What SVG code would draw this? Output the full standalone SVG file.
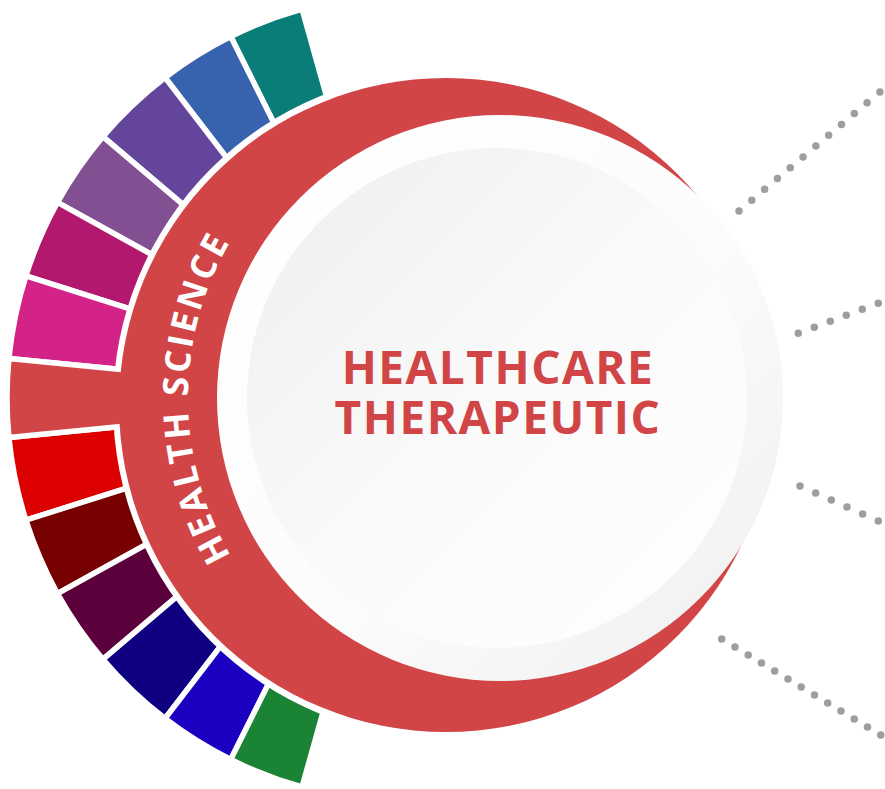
<svg xmlns="http://www.w3.org/2000/svg" width="885" height="789" viewBox="0 0 885 789">
<defs>
<style>
.seg{stroke:#ffffff;stroke-width:5.5;stroke-linejoin:miter}
.dots{fill:none;stroke:#9e9e9e;stroke-width:7.5;stroke-linecap:round}
.title{font-family:"Open Sans","Liberation Sans",sans-serif;font-weight:700;fill:#d14546;font-size:46px;letter-spacing:1.5px;text-anchor:middle}
.arc{font-family:"Open Sans","Liberation Sans",sans-serif;font-weight:700;fill:#ffffff;font-size:35px;letter-spacing:3px}
</style>
<linearGradient id="gOuter" x1="0" y1="0" x2="1" y2="1">
<stop offset="0" stop-color="#ffffff"/>
<stop offset="0.55" stop-color="#fcfcfc"/>
<stop offset="1" stop-color="#eeeeee"/>
</linearGradient>
<linearGradient id="gInner" x1="0" y1="0" x2="1" y2="1">
<stop offset="0" stop-color="#eeeeee"/>
<stop offset="0.5" stop-color="#fafafa"/>
<stop offset="1" stop-color="#ffffff"/>
</linearGradient>
<path id="hsArc" d="M344 668.2 A312 312 0 0 1 344 127.8"/>
</defs>
<rect width="885" height="789" fill="#ffffff"/>
<g id="segments">
<path id="seg-teal" class="seg" fill="#0b7d79" d="M411 398 L230.74 36.45 A404 404 0 0 1 302.02 8.98 Z"/>
<path id="seg-blue" class="seg" fill="#3762ad" d="M411 398 L165.06 77.49 A404 404 0 0 1 230.74 36.45 Z"/>
<path id="seg-purple" class="seg" fill="#63459b" d="M411 398 L102.88 136.70 A404 404 0 0 1 165.06 77.49 Z"/>
<path id="seg-violet" class="seg" fill="#824f93" d="M411 398 L57.48 202.44 A404 404 0 0 1 102.88 136.70 Z"/>
<path id="seg-magenta" class="seg" fill="#b3186f" d="M411 398 L25.91 275.84 A404 404 0 0 1 57.48 202.44 Z"/>
<path id="seg-pink" class="seg" fill="#d42388" d="M411 398 L8.93 358.58 A404 404 0 0 1 25.91 275.84 Z"/>
<path id="seg-red" class="seg" fill="#dc0000" d="M411 398 L25.91 520.16 A404 404 0 0 1 8.93 437.42 Z"/>
<path id="seg-darkred" class="seg" fill="#770000" d="M411 398 L57.48 593.56 A404 404 0 0 1 25.91 520.16 Z"/>
<path id="seg-plum" class="seg" fill="#5b003b" d="M411 398 L102.88 659.30 A404 404 0 0 1 57.48 593.56 Z"/>
<path id="seg-navy" class="seg" fill="#0e0080" d="M411 398 L165.06 718.51 A404 404 0 0 1 102.88 659.30 Z"/>
<path id="seg-blue2" class="seg" fill="#1b00c1" d="M411 398 L230.74 759.55 A404 404 0 0 1 165.06 718.51 Z"/>
<path id="seg-green" class="seg" fill="#1a8434" d="M411 398 L302.02 787.02 A404 404 0 0 1 230.74 759.55 Z"/>
<circle cx="447" cy="405" r="334" fill="#ffffff"/>
</g>
<g id="health-science">
<path id="seg-tab" class="seg" fill="#d14546" d="M411 398 L8.93 437.42 A404 404 0 0 1 8.93 358.58 Z"/>
<circle cx="446" cy="405" r="327" fill="#d14546"/>
</g>
<g id="center">
<circle cx="500" cy="398" r="283" fill="url(#gOuter)"/>
<circle cx="497" cy="398" r="250" fill="url(#gInner)"/>
<text class="title"><tspan x="498" y="384">HEALTHCARE</tspan><tspan x="498" y="434">THERAPEUTIC</tspan></text>
</g>
<g id="arc-label">
<text class="arc"><textPath href="#hsArc" startOffset="50%" text-anchor="middle">HEALTH SCIENCE</textPath></text>
</g>
<g id="connectors">
<path class="dots" stroke-dasharray="0 16.77" d="M739 211 L880.8 91.2"/>
<path class="dots" stroke-dasharray="0 17.09" d="M798.3 333.3 L879.2 302.9"/>
<path class="dots" stroke-dasharray="0 17.15" d="M800 486 L879.2 521.4"/>
<path class="dots" stroke-dasharray="0 15.48" d="M721.7 639 L881.5 735.5"/>
</g>
</svg>
